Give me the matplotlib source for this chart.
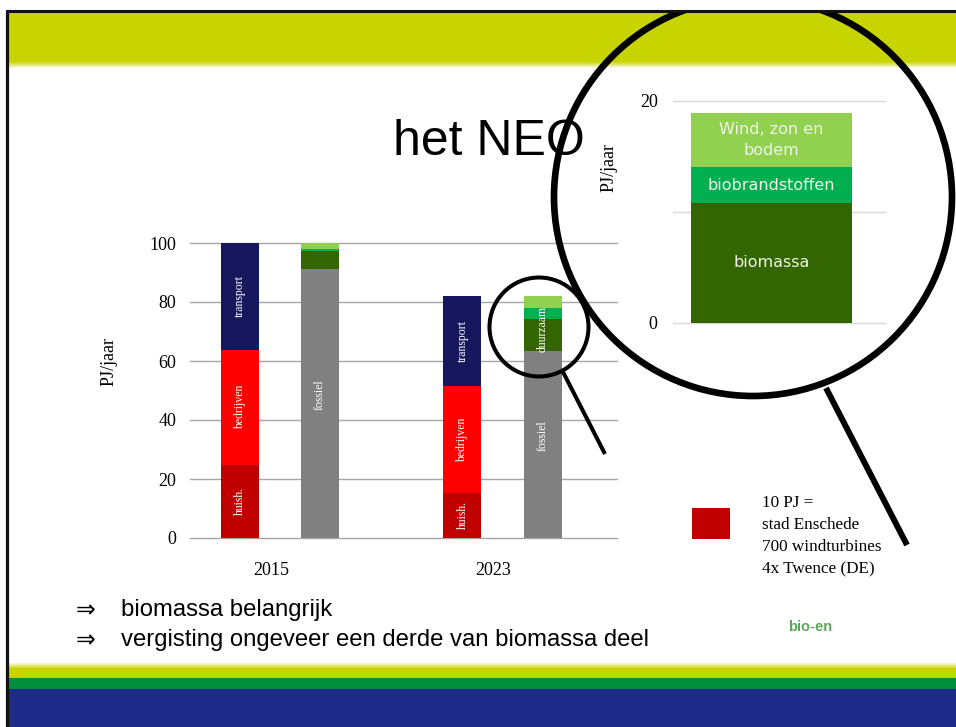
import numpy as np
import matplotlib
matplotlib.use('Agg')
import matplotlib.pyplot as plt
from matplotlib.patches import Rectangle, Circle

plt.rcParams['font.family'] = ['Liberation Serif', 'DejaVu Serif']

# data
jaren = ['2015', '2023']
huish = [24.9, 15.3]
bedrijven = [38.9, 36.1]
transport = [36.2, 30.7]
fossiel = [91.3, 63.5]
biomassa = [6.1, 10.9]
biobrandstof = [0.7, 3.7]
wind = [1.9, 4.0]

inzoom_namen = ['biomassa', 'biobrandstoffen', 'Wind, zon en\nbodem']
inzoom_waarden = [10.8, 3.2, 4.9]

notitie = ['10 PJ =', 'stad Enschede', '700 windturbines', '4x Twence (DE)']
bullets = ['biomassa belangrijk', 'vergisting ongeveer een derde van biomassa deel']

c_huish = '#C00000'
c_bedr = '#FF0000'
c_trans = '#17175E'
c_foss = '#808080'
c_bio = '#336600'
c_biob = '#00B050'
c_wind = '#92D050'

W, H = 956, 727
fig = plt.figure(figsize=(W / 100, H / 100), dpi=100)

def box(x0, y0, x1, y1):
    # pixel box (top-left origin) -> figure fraction
    return [x0 / W, 1 - y1 / H, (x1 - x0) / W, (y1 - y0) / H]

# achtergrond van de slide
bg = fig.add_axes([0, 0, 1, 1], zorder=0)
bg.set_xlim(0, W)
bg.set_ylim(H, 0)
bg.axis('off')
bg.add_patch(Rectangle((0, 12), W, 50, color='#C8D400', lw=0))
for k in range(6):
    t = (k + 1) / 7
    col = np.array([0xC8, 0xD4, 0x00]) / 255 * (1 - t) + t
    bg.add_patch(Rectangle((0, 62 + k), W, 1, color=col, lw=0))
for k in range(5):
    t = 1 - (k + 1) / 6
    col = np.array([0xC8, 0xD4, 0x00]) / 255 * (1 - t) + t
    bg.add_patch(Rectangle((0, 663 + k), W, 1, color=col, lw=0))
bg.add_patch(Rectangle((0, 668), W, 10, color='#C8D400', lw=0))
bg.add_patch(Rectangle((0, 678), W, 11, color='#00903D', lw=0))
bg.add_patch(Rectangle((0, 689), W, 38, color='#1E2A87', lw=0))

bg.text(393, 155, 'het NEO', fontsize=36, family='Liberation Sans', va='baseline', ha='left')

for i, b in enumerate(bullets):
    y = 610 + i * 30
    bg.text(76, y, '\u21D2', fontsize=17, family=['DejaVu Sans'], va='center', ha='left')
    bg.text(121, y, b, fontsize=17.2, family='Liberation Sans', va='center', ha='left')

bg.text(788, 627, 'bio-en', fontsize=10.5, family='Liberation Sans', weight='bold',
        color='#5AA85A', va='center', ha='left')

bg.add_patch(Rectangle((692, 508), 38, 31, color=c_huish, lw=0))
for i, regel in enumerate(notitie):
    bg.text(762, 503 + i * 22, regel, fontsize=12.3, va='center', ha='left')

# hoofdgrafiek
ax = fig.add_axes(box(190, 243, 617, 538), zorder=1)
ax.patch.set_alpha(0)
x = np.arange(len(jaren))
off = 0.18
bw = 0.171
xv = x - off
xa = x + off

b1 = np.array(huish)
b2 = b1 + np.array(bedrijven)
ax.bar(xv, huish, bw, color=c_huish, zorder=2)
ax.bar(xv, bedrijven, bw, bottom=b1, color=c_bedr, zorder=2)
ax.bar(xv, transport, bw, bottom=b2, color=c_trans, zorder=2)

s1 = np.array(fossiel)
s2 = s1 + np.array(biomassa)
s3 = s2 + np.array(biobrandstof)
ax.bar(xa, fossiel, bw, color=c_foss, zorder=2)
ax.bar(xa, biomassa, bw, bottom=s1, color=c_bio, zorder=2)
ax.bar(xa, biobrandstof, bw, bottom=s2, color=c_biob, zorder=2)
ax.bar(xa, wind, bw, bottom=s3, color=c_wind, zorder=2)

lbl = dict(rotation=90, color='white', fontsize=8.5, ha='center', va='center', zorder=3)
for i in range(len(jaren)):
    ax.text(xv[i], huish[i] / 2, 'huish.', **lbl)
    ax.text(xv[i], b1[i] + bedrijven[i] / 2, 'bedrijven', **lbl)
    ax.text(xv[i], b2[i] + transport[i] / 2, 'transport', **lbl)
    ax.text(xa[i], fossiel[i] / 2 + 3, 'fossiel', **lbl)
duurz = biomassa[1] + biobrandstof[1] + wind[1]
ax.text(xa[1], s1[1] + duurz / 2 - 2, 'duurzaam', **lbl)

ax.set_xlim(-0.4045, 1.5146)
ax.set_ylim(0, 100)
ax.set_yticks(np.arange(0, 101, 20))
ax.set_xticks(x - 0.04)
ax.set_xticklabels(jaren)
ax.tick_params(length=0, labelsize=13)
ax.tick_params(axis='y', pad=10)
ax.tick_params(axis='x', pad=17)
ax.yaxis.grid(True, color='#A6A6A6', lw=1)
for gl in ax.get_ygridlines():
    gl.set_clip_on(False)
ax.set_axisbelow(True)
for s in ax.spines.values():
    s.set_visible(False)
ax.set_ylabel('PJ/jaar', fontsize=13)
ax.yaxis.set_label_coords(-0.169, 0.597)

# ingezoomde grafiek
ins = fig.add_axes(box(673, 100.7, 885, 322.7), zorder=1)
ins.patch.set_alpha(0)
bot = 0
kleuren = [c_bio, c_biob, c_wind]
for naam, v, c in zip(inzoom_namen, inzoom_waarden, kleuren):
    ins.bar(0, v, 0.76, bottom=bot, color=c, zorder=2)
    ins.text(0, bot + v / 2, naam, color='#EEF4E6', fontsize=11.5, family='DejaVu Sans',
             ha='center', va='center', linespacing=1.45, zorder=3)
    bot += v
ins.set_xlim(-0.4646, 0.5354)
ins.set_ylim(0, 20)
ins.set_yticks([0, 10, 20])
ins.set_yticklabels(['0', '', '20'])
ins.set_xticks([])
ins.tick_params(length=0, labelsize=13, pad=11)
ins.yaxis.grid(True, color='#D9D9D9', lw=1)
for gl in ins.get_ygridlines():
    gl.set_clip_on(False)
ins.set_axisbelow(True)
for s in ins.spines.values():
    s.set_visible(False)
ins.set_ylabel('PJ/jaar', fontsize=13)
ins.yaxis.set_label_coords(-0.264, 0.697)

# vergrootglas en rand
ov = fig.add_axes([0, 0, 1, 1], zorder=5)
ov.set_xlim(0, W)
ov.set_ylim(H, 0)
ov.patch.set_alpha(0)
ov.axis('off')
ov.add_patch(Circle((753, 197), 199, fill=False, lw=4.8, ec='black'))
ov.plot([826, 907], [388, 545], color='black', lw=4.3, solid_capstyle='butt')
ov.add_patch(Circle((539, 327), 49.5, fill=False, lw=2.9, ec='black'))
ov.plot([562, 605], [370, 454], color='black', lw=2.9, solid_capstyle='butt')
ov.add_patch(Rectangle((0, 0), W, 10, color='white', lw=0, zorder=4))
ov.add_patch(Rectangle((0, 0), 6, H, color='white', lw=0, zorder=4))
ov.plot([6, W], [11, 11], color='#111111', lw=2.2, zorder=5, solid_capstyle='butt')
ov.plot([7.5, 7.5], [10, H], color='#111111', lw=2.3, zorder=5, solid_capstyle='butt')

fig.savefig('out.png', dpi=100)
